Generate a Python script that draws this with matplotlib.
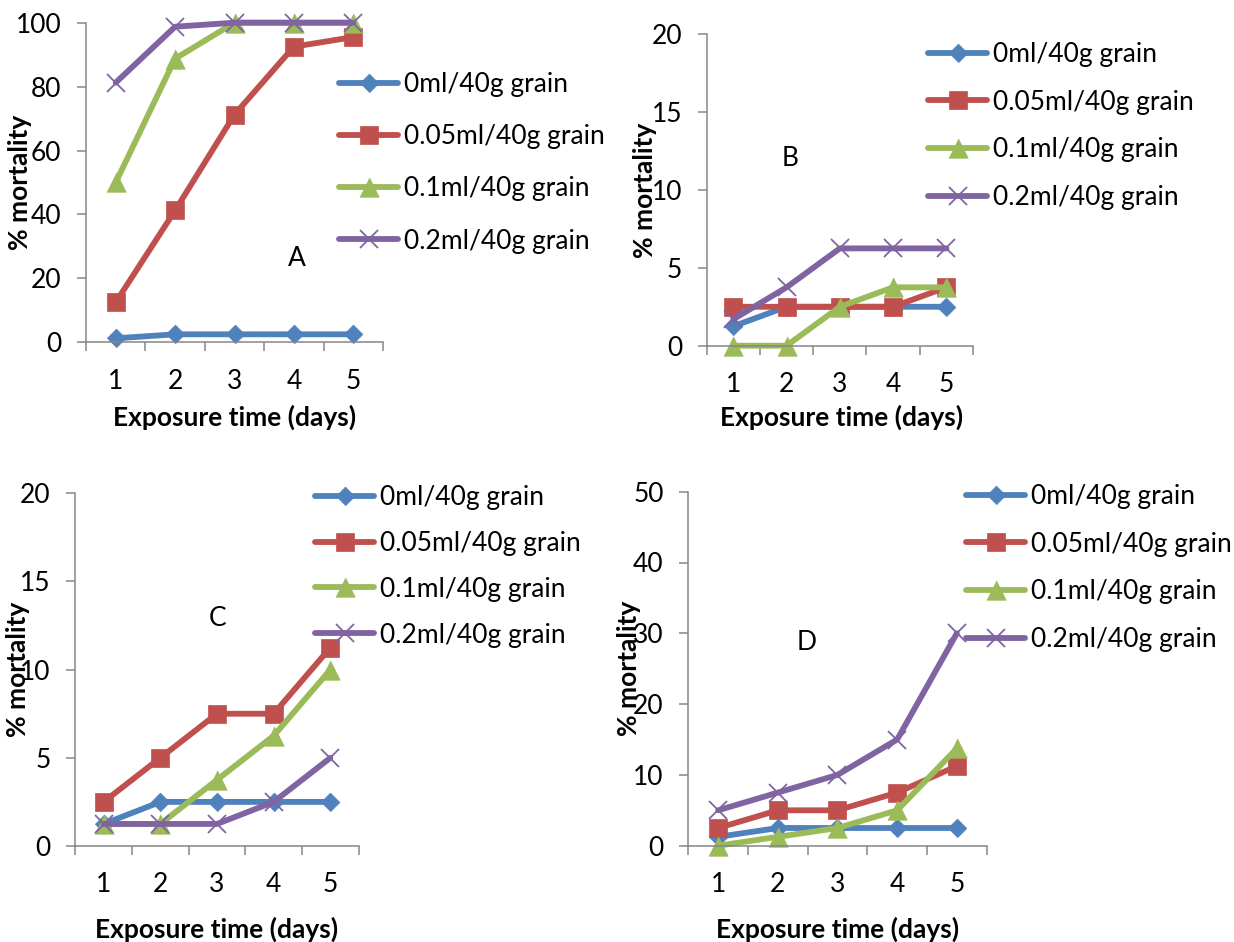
import matplotlib
matplotlib.use('Agg')
import matplotlib.pyplot as plt

plt.rcParams['font.family'] = ['Lato', 'DejaVu Sans']

days = [1, 2, 3, 4, 5]
doses = ['0ml/40g grain', '0.05ml/40g grain', '0.1ml/40g grain', '0.2ml/40g grain']

# panel A
a_0ml = [1.25, 2.5, 2.5, 2.5, 2.5]
a_005ml = [12.5, 41.25, 71.25, 92.5, 95.5]
a_01ml = [50, 88.75, 100, 100, 100]
a_02ml = [81.25, 98.75, 100, 100, 100]

# panel B
b_0ml = [1.25, 2.5, 2.5, 2.5, 2.5]
b_005ml = [2.5, 2.5, 2.5, 2.5, 3.75]
b_01ml = [0, 0, 2.5, 3.75, 3.75]
b_02ml = [1.7, 3.75, 6.25, 6.25, 6.25]

# panel C
c_0ml = [1.25, 2.5, 2.5, 2.5, 2.5]
c_005ml = [2.5, 5, 7.5, 7.5, 11.25]
c_01ml = [1.25, 1.25, 3.75, 6.25, 10]
c_02ml = [1.25, 1.25, 1.25, 2.5, 5]

# panel D
d_0ml = [1.25, 2.5, 2.5, 2.5, 2.5]
d_005ml = [2.5, 5, 5, 7.5, 11.25]
d_01ml = [0, 1.25, 2.5, 5, 13.75]
d_02ml = [5, 7.5, 10, 15, 30]

ymax = {'A': 100, 'B': 20, 'C': 20, 'D': 50}
ystep = {'A': 20, 'B': 5, 'C': 5, 'D': 10}

colors = ['#4F81BD', '#C0504D', '#9BBB59', '#8064A2']
diamond = [(-1, 0), (0, 1), (1, 0), (0, -1)]
triangle = [(-1, -1), (1, -1), (0, 1)]
markers = [(diamond, 13.5), ('s', 13.5), (triangle, 14), ('x', 13)]

W, H = 1234, 942
fig = plt.figure(figsize=(W / 100, H / 100), dpi=100)
FS = 19

# pixel layout: axes box, xlabel centre, ylabel centre, letter, legend (x, top, spacing)
layout = {
    'A': dict(box=(86, 22.7, 383, 342.3), xl=(234.5, 417), yl=(20, 182), let=(297, 259), leg=(339, 72, 1.03)),
    'B': dict(box=(706.7, 34.3, 973, 345.7), xl=(842, 417), yl=(645, 190), let=(790, 159), leg=(928, 42, 0.86)),
    'C': dict(box=(75.3, 493.3, 358.7, 846), xl=(217, 929), yl=(18, 669), let=(218, 618), leg=(315, 485, 0.79)),
    'D': dict(box=(688.3, 491.7, 986.7, 845.7), xl=(838, 929), yl=(629, 668), let=(807, 643), leg=(966, 484, 0.86)),
}
data = {
    'A': [a_0ml, a_005ml, a_01ml, a_02ml],
    'B': [b_0ml, b_005ml, b_01ml, b_02ml],
    'C': [c_0ml, c_005ml, c_01ml, c_02ml],
    'D': [d_0ml, d_005ml, d_01ml, d_02ml],
}

for key in ['A', 'B', 'C', 'D']:
    lay = layout[key]
    l, t, r, b = lay['box']
    ax = fig.add_axes([l / W, 1 - b / H, (r - l) / W, (b - t) / H])
    for i, series in enumerate(data[key]):
        m, ms = markers[i]
        ax.plot(days, series, color=colors[i], lw=4.2, marker=m, ms=ms,
                mew=1.3 if m == 'x' else 0.5, mec=colors[i], mfc=colors[i],
                solid_capstyle='round', clip_on=False, label=doses[i])
    ax.set_xlim(0.5, 5.5)
    ax.set_ylim(0, ymax[key])
    ax.set_yticks(range(0, ymax[key] + 1, ystep[key]))
    ax.set_xticks([0.5, 1.5, 2.5, 3.5, 4.5, 5.5])
    ax.set_xticklabels([])
    ax.set_xticks(days, minor=True)
    ax.set_xticklabels([str(d) for d in days], minor=True)
    ax.tick_params(axis='x', which='major', length=9.3 / 1.389, width=1.1, color='#868686', direction='out')
    ax.tick_params(axis='x', which='minor', length=0, pad=19, labelsize=FS)
    ax.tick_params(axis='y', length=9.3 / 1.389, width=1.1, color='#868686', pad=11, labelsize=FS)
    for s in ['top', 'right']:
        ax.spines[s].set_visible(False)
    for s in ['left', 'bottom']:
        ax.spines[s].set_color('#868686')
        ax.spines[s].set_linewidth(1.1)
    ax.patch.set_alpha(0)

    fig.text(lay['xl'][0] / W, 1 - lay['xl'][1] / H, 'Exposure time (days)', fontsize=FS,
             fontweight='bold', ha='center', va='center')
    fig.text(lay['yl'][0] / W, 1 - lay['yl'][1] / H, '% mortality', fontsize=FS,
             fontweight='bold', ha='center', va='center', rotation=90)
    fig.text(lay['let'][0] / W, 1 - lay['let'][1] / H, key, fontsize=FS, ha='center', va='center')

    lx, ltop, sp = lay['leg']
    ax.legend(loc='upper left', bbox_to_anchor=(lx / W, 1 - ltop / H), bbox_transform=fig.transFigure,
              frameon=False, fontsize=FS, handlelength=2.25, handletextpad=0.2, labelspacing=sp,
              borderpad=0, borderaxespad=0, numpoints=1)

fig.savefig('out.png', dpi=100)
